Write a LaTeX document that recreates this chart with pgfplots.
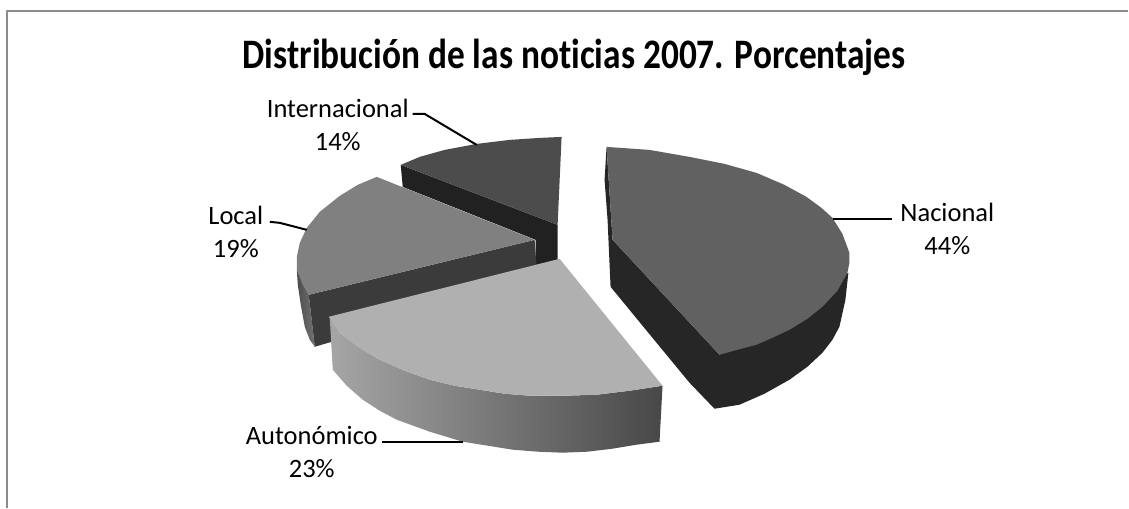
\documentclass[border=0pt]{standalone}
\usepackage{fontspec}
\setmainfont[Ligatures=NoCommon]{Carlito}
\usepackage{graphicx}
\usepackage{pgfplots}
\pgfplotsset{compat=1.18}
\begin{document}
\begin{tikzpicture}
\begin{axis}[
  at={(0,0)}, anchor=south west,
  width=1129pt, height=508pt, scale only axis,
  xmin=0, xmax=1129, ymin=0, ymax=508, y dir=reverse,
  hide axis, clip=false,
  every axis plot/.append style={line join=round}
]
% page
\addplot[draw=none, fill=white, forget plot] coordinates {(0,0)(1129,0)(1129,508)(0,508)} --cycle;
% frame
\addplot[draw=black!45, line width=1.6pt, forget plot] coordinates {(7,508)(7,11)(1129,11)};
% Internacional
\addplot[draw=none, fill=black!87, forget plot] coordinates {(401,165)(558,225)(558,266)(536,268)(536,240)(403,187)} --cycle;
\addplot[draw=none, fill=black!70, forget plot] coordinates {(401,165)(420,157)(445,150)(477,144)(510,140)(540,138)(562,137)(558,225)} --cycle;
% Local
\addplot[draw=none, left color=black!70, right color=black!55, forget plot] coordinates {(309,295)(297,270)(298,285)(301,305)(305,327)(310,340)(315,347)} --cycle;
\addplot[draw=none, fill=black!77, forget plot] coordinates {(309,295)(535,240)(537,268)(332,322)(332,342)(315,347)} --cycle;
\addplot[draw=none, fill=black!50, forget plot] coordinates {(377,177)(535,240)(309,295)(303,285)(297,270)(297,257)(300,243)(307,228)(320,212)(340,196)(358,185)} --cycle;
% Autonomico
\addplot[draw=none, left color=black!35, right color=black!72, forget plot] coordinates {(330,318)(340,333)(360,348)(380,360)(405,371)(430,380)(455,386)(480,390)(505,394)(530,396)(565,396)(597,395)(630,391)(663,386)(660,442)(637,445)(613,449)(588,452)(563,453)(538,452)(513,450)(488,446)(463,442)(430,432)(397,420)(380,411)(363,400)(347,386)(333,370)} --cycle;
\addplot[draw=none, fill=black!31, forget plot] coordinates {(329,317)(560,259)(663,386)(630,391)(597,395)(565,396)(530,396)(505,394)(480,390)(455,386)(430,380)(405,371)(380,360)(360,348)(340,333)} --cycle;
% Nacional
\addplot[draw=none, fill=black!85, forget plot] coordinates {(607,147)(605,180)(608,220)(611,287)(657,343)(690,383)(715,409)(740,405)(765,394)(790,380)(808,367)(823,353)(833,340)(840,327)(846,300)(849,273)(720,355)(613,240)} --cycle;
\addplot[draw=none, fill=black!62, forget plot] coordinates {(607,147)(650,150)(690,157)(725,164)(757,173)(785,185)(807,197)(822,208)(833,218)(843,234)(850,253)(850,263)(848,273)(838,291)(823,307)(808,319)(790,330)(773,338)(757,345)(738,350)(720,355)(613,240)} --cycle;
% leaders
\addplot[black, line width=2pt, forget plot] coordinates {(834,219)(893,219)};
\addplot[black, line width=2pt, forget plot] coordinates {(382,442)(463,442)};
\addplot[black, line width=2pt, forget plot] coordinates {(270,222)(280,223)(307,230)};
\addplot[black, line width=2pt, forget plot] coordinates {(413,114)(425,114)(477,145)};
% text
\node[anchor=center, font=\bfseries\fontsize{42}{46}\selectfont] at (axis cs:574.5,57) {\scalebox{0.842}[1]{Distribución de las noticias 2007. Porcentajes}};
\node[align=center, font=\fontsize{26.5}{33}\selectfont] at (axis cs:338,125) {Internacional\\14\%};
\node[align=center, font=\fontsize{26.5}{33}\selectfont] at (axis cs:236,232) {Local\\19\%};
\node[align=center, font=\fontsize{26.5}{33}\selectfont] at (axis cs:312,452) {Autonómico\\23\%};
\node[align=center, font=\fontsize{26.5}{33}\selectfont] at (axis cs:948,229) {Nacional\\44\%};
\end{axis}
\end{tikzpicture}
\end{document}
